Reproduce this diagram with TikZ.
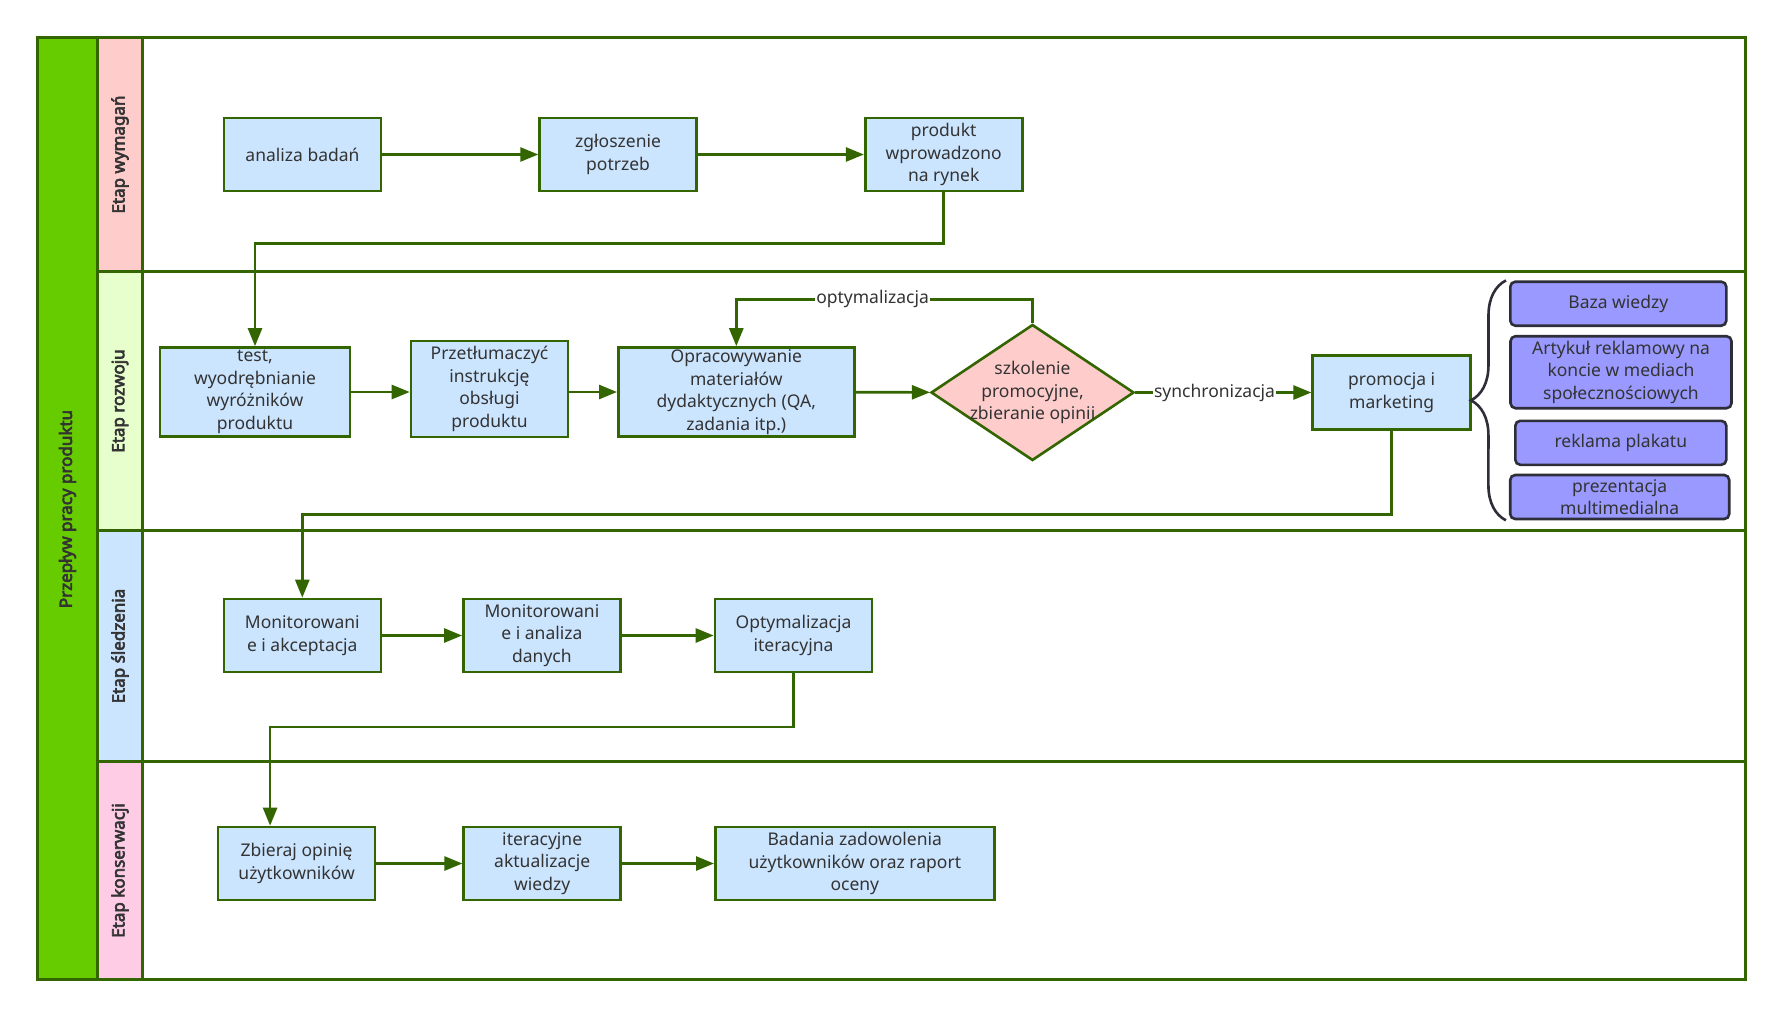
\documentclass[tikz,border=0pt]{standalone}
\usepackage{fontspec}
\setmainfont{Noto Sans}[AutoFakeBold=3.6]
\usetikzlibrary{positioning, arrows.meta, shapes.geometric, decorations.pathreplacing}

\definecolor{lineg}{HTML}{336600}
\definecolor{poolg}{HTML}{66CC00}
\definecolor{boxblue}{HTML}{CCE5FF}
\definecolor{decpink}{HTML}{FFCCCC}
\definecolor{lanered}{HTML}{FFCCCC}
\definecolor{lanegreen}{HTML}{E6FFCC}
\definecolor{laneblue}{HTML}{CCE5FF}
\definecolor{lanepink}{HTML}{FFCCE6}
\definecolor{purp}{HTML}{9999FF}
\definecolor{purpline}{HTML}{2E2E3A}
\definecolor{txt}{HTML}{333333}

\begin{document}
\begin{tikzpicture}[x=1pt, y=-1pt,
      font=\fontsize{17.5}{22.5}\selectfont, text=txt,
      task/.style={draw=lineg, line width=2.6pt, fill=boxblue, align=center,
        minimum width=157pt, minimum height=73pt, inner sep=1pt},
      decision/.style={diamond, draw=lineg, line width=2.6pt, fill=decpink,
        minimum width=203pt, minimum height=136pt, inner sep=0pt},
      media/.style={draw=purpline, line width=2.6pt, fill=purp,
        rounded corners=5pt, align=center, inner sep=1pt},
      lanelbl/.style={rotate=90, font=\bfseries\fontsize{17}{20}\selectfont},
      arr/.style={-{Triangle[length=18pt, width=14pt]}, draw=lineg, line width=2.6pt},
      tag/.style={fill=white, inner sep=1pt}
    ]
    \useasboundingbox (0,0) rectangle (1782,1018);

    % pool and lanes
    \fill[poolg] (37.5,37.5) rectangle (97.5,979.5);
    \fill[lanered] (97.5,37.5) rectangle (142.5,271.5);
    \fill[lanegreen] (97.5,271.5) rectangle (142.5,530.5);
    \fill[laneblue] (97.5,530.5) rectangle (142.5,761.5);
    \fill[lanepink] (97.5,761.5) rectangle (142.5,979.5);
    \draw[lineg, line width=3pt] (37.5,37.5) rectangle (1745,979.5);
    \draw[lineg, line width=3pt] (97.5,37.5) -- (97.5,979.5) (142.5,37.5) -- (142.5,979.5);
    \foreach \ly in {271.5, 530.5, 761.5}
      \draw[lineg, line width=3pt] (97.5,\ly) -- (1745,\ly);

    \node[lanelbl] (pool) at (67.5,509) {Przepływ pracy produktu};
    \node[lanelbl] (lwym) at (120,154.5) {Etap wymagań};
    \node[lanelbl] (lroz) at (120,401) {Etap rozwoju};
    \node[lanelbl] (lsle) at (120,646) {Etap śledzenia};
    \node[lanelbl] (lkon) at (120,870.5) {Etap konserwacji};

    % Etap wymagan
    \node[task] (analiza) at (302.5,154.5) {analiza badań};
    \node[task, right=156pt of analiza] (zglosz) {zgłoszenie\\potrzeb};
    \node[task, right=166pt of zglosz] (produkt) {produkt\\wprowadzono\\na rynek};

    % Etap rozwoju
    \node[task, minimum width=190pt, minimum height=89pt] (test) at (255,392)
      {test,\\wyodrębnianie\\wyróżników\\produktu};
    \node[task, minimum height=96pt] (przet) at (489.5,388.8)
      {Przetłumaczyć\\instrukcję\\obsługi\\produktu};
    \node[task, minimum width=236pt, minimum height=89pt] (opr) at (736.3,392)
      {Opracowywanie\\materiałów\\dydaktycznych (QA,\\zadania itp.)};
    \node[decision] (szk) at (1032.5,392.5) {};
    \node[align=center] (szktxt) at (szk.center) {szkolenie\\promocyjne,\\zbieranie opinii};
    \node[task, minimum width=158pt, minimum height=74pt] (promo) at (1391.7,392.5)
      {promocja i\\marketing};

    \node[media, minimum width=216pt, minimum height=44pt] (baza) at (1618.3,303.7) {Baza wiedzy};
    \node[media, minimum width=221pt, minimum height=72pt] (artykul) at (1621,372.2)
      {Artykuł reklamowy na\\koncie w mediach\\społecznościowych};
    \node[media, minimum width=211pt, minimum height=44pt] (plakat) at (1620.8,442.8) {reklama plakatu};
    \node[media, minimum width=219pt, minimum height=44pt] (prezent) at (1619.7,497)
      {prezentacja\\multimedialna};

    % Etap sledzenia
    \node[task] (monit1) at (302.3,635.5) {Monitorowani\\e i akceptacja};
    \node[task, right=80pt of monit1] (monit2) {Monitorowani\\e i analiza\\danych};
    \node[task, right=92pt of monit2] (optym) {Optymalizacja\\iteracyjna};

    % Etap konserwacji
    \node[task] (zbieraj) at (296.6,863.5) {Zbieraj opinię\\użytkowników};
    \node[task, right=86pt of zbieraj] (iterac) {iteracyjne\\aktualizacje\\wiedzy};
    \node[task, minimum width=279pt, right=92pt of iterac] (badania)
      {Badania zadowolenia\\użytkowników oraz raport\\oceny};

    % connectors
    \draw[arr] (analiza) -- (zglosz);
    \draw[arr] (zglosz) -- (produkt);
    \draw[arr] (produkt.south) -- ++(0,51) -| (test.north);
    \draw[arr] (test.east) -- (test.east -| przet.west);
    \draw[arr] (przet.east |- opr.west) -- (opr.west);
    \draw[arr] (opr) -- (szk);
    \draw[arr] (szk.north) -- ++(0,-24) -| node[tag, pos=0.27] (optlbl) {optymalizacja} (opr.north);
    \draw[arr] (szk) -- node[tag, pos=0.45] (synlbl) {synchronizacja} (promo);
    \draw[arr] (promo.south) -- ++(0,83.5) -| (monit1.north);
    \draw[arr] (monit1) -- (monit2);
    \draw[arr] (monit2) -- (optym);
    \draw[arr] (optym.south) -- ++(0,53.5) -| ([xshift=-26.5pt]zbieraj.north);
    \draw[arr] (zbieraj) -- (iterac);
    \draw[arr] (iterac) -- (badania);

    \coordinate (brtop) at ([xshift=-3pt]baza.north west);
    \coordinate (brbot) at ([xshift=-3pt]prezent.south west);
    \draw[purpline, line width=2.6pt, decorate, decoration={brace, amplitude=35pt}]
      (brbot) -- (brtop);
  \end{tikzpicture}
\end{document}
